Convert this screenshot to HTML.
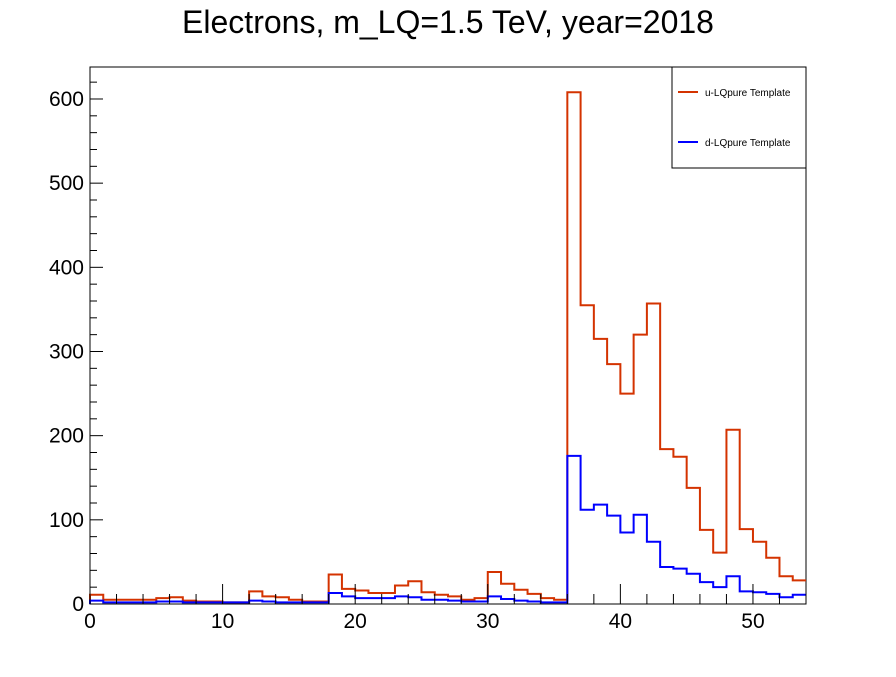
<!DOCTYPE html>
<html><head><meta charset="utf-8"><style>
body{margin:0;background:#fff;width:896px;height:672px;overflow:hidden}
svg text{font-family:"Liberation Sans",sans-serif}
</style></head><body>
<svg id="c" width="896" height="672">
<text x="448" y="33" font-size="32" text-anchor="middle">Electrons, m_LQ=1.5 TeV, year=2018</text>
<rect x="90" y="67" width="716" height="537" fill="none" stroke="#000" stroke-width="1"/>
<g id="marks"></g>
<g id="axes"></g>
<g>
<rect x="672" y="67" width="134" height="101" fill="#fff" stroke="#000"/>
<line x1="678" y1="92" x2="698" y2="92" stroke="#d43300" stroke-width="2"/>
<text x="705" y="96" font-size="10">u-LQpure Template</text>
<line x1="678" y1="142" x2="698" y2="142" stroke="#0000ff" stroke-width="2"/>
<text x="705" y="146" font-size="10">d-LQpure Template</text>
</g>
</svg>
<script>
const uValues=[11,5,5,5,5,7,8,4,3,3,2,2,15,9,8,5,3,3,35,18,16,13,13,22,27,14,11,9,5,7,38,24,17,12,7,5,608,355,315,285,250,320,357,184,175,138,88,61,207,89,74,55,33,28];
const dValues=[4,2,2,2,2,3,3,2,2,2,2,2,4,3,2,2,2,2,13,9,7,7,7,9,8,5,5,4,3,3,9,6,4,3,2,2,176,112,118,105,85,106,74,44,42,36,26,20,33,15,14,12,8,11];
const xTicks=[0,10,20,30,40,50];
const yTicks=[0,100,200,300,400,500,600];
const X0=90,X1=806,Y0=604,Y1=67,XMAX=54,YMAX=638;
const sx=v=>X0+(X1-X0)*v/XMAX, sy=v=>Y0-(Y0-Y1)*v/YMAX;
const NS="http://www.w3.org/2000/svg";
const marks=document.getElementById('marks'),axes=document.getElementById('axes');
function step(vals){let d=`M${sx(0)},${sy(0)}`;vals.forEach((v,i)=>{d+=`L${sx(i)},${sy(v)}L${sx(i+1)},${sy(v)}`;});return d;}
[[uValues,'#d43300','series-u-lqpure'],[dValues,'#0000ff','series-d-lqpure']].forEach(([vals,col,name])=>{
const p=document.createElementNS(NS,'path');p.setAttribute('d',step(vals));p.setAttribute('fill','none');p.setAttribute('stroke',col);p.setAttribute('stroke-width','2');


marks.appendChild(p);});
function ln(x1,y1,x2,y2){const l=document.createElementNS(NS,'line');l.setAttribute('x1',x1);l.setAttribute('y1',y1);l.setAttribute('x2',x2);l.setAttribute('y2',y2);l.setAttribute('stroke','#000');


axes.appendChild(l);}
function tx(x,y,s,anchor,name){const t=document.createElementNS(NS,'text');t.setAttribute('x',x);t.setAttribute('y',y);t.setAttribute('font-size','21');t.setAttribute('text-anchor',anchor);t.textContent=s;


axes.appendChild(t);}
for(let v=0;v<=XMAX;v+=2){const major=v%10===0;ln(sx(v),Y0,sx(v),Y0-(major?20:10));}
xTicks.forEach(v=>tx(sx(v),628,String(v),'middle','x-tick-label'));
for(let v=0;v<=YMAX;v+=20){const major=v%100===0;ln(X0,sy(v),X0+(major?13:7),sy(v));}
yTicks.forEach(v=>tx(X0-6,sy(v)+7,String(v),'end','y-tick-label'));
</script>
</body></html>
